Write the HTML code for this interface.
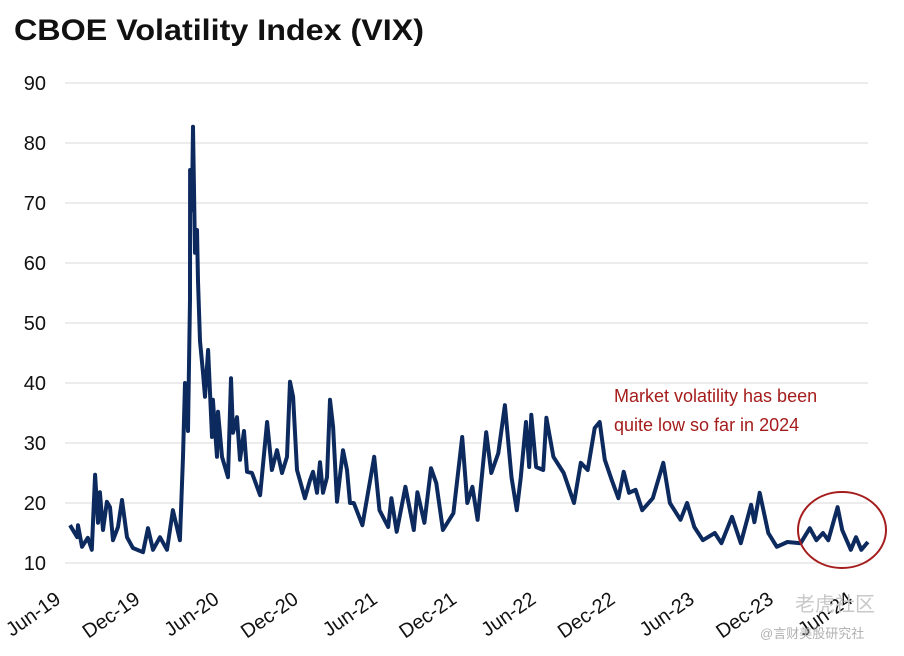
<!DOCTYPE html>
<html><head><meta charset="utf-8"><style>
body{margin:0;background:#fff;width:904px;height:656px;overflow:hidden}
svg{display:block;font-family:"Liberation Sans","Noto Sans CJK SC",sans-serif}
</style></head><body>
<svg id="chart" width="904" height="656">
<text x="14" y="40" font-size="30" font-weight="bold" fill="#111" textLength="410" lengthAdjust="spacingAndGlyphs">CBOE Volatility Index (VIX)</text>
<g id="grid"></g><g id="ylab"></g><g id="xlab"></g>
<path id="line" fill="none" stroke="#0d2a5e" stroke-width="4" stroke-linejoin="round"/>
<text x="614" y="402" font-size="18" fill="#a51c1c">Market volatility has been</text>
<text x="614" y="431" font-size="18" fill="#a51c1c">quite low so far in 2024</text>
<ellipse cx="842" cy="530" rx="44" ry="38" fill="none" stroke="#a51c1c" stroke-width="2"/>
<text x="795" y="611" font-size="20" fill="#c8c8c8">老虎社区</text>
<text x="760" y="638" font-size="13" fill="#b0b0b0">@言财美股研究社</text>
</svg>
<script>
const yTicks=[10,20,30,40,50,60,70,80,90];
const xTickLabels=["Jun-19","Dec-19","Jun-20","Dec-20","Jun-21","Dec-21","Jun-22","Dec-22","Jun-23","Dec-23","Jun-24"];
const xTickMonths=[0,6,12,18,24,30,36,42,48,54,60];
const months=[0.15,0.7,0.76,1.06,1.5,1.8,2.05,2.27,2.42,2.65,2.95,3.18,3.41,3.79,4.09,4.47,4.92,5.68,6.06,6.44,6.97,7.5,7.95,8.48,8.71,8.86,9.09,9.24,9.25,9.39,9.47,9.62,9.77,9.85,10.0,10.23,10.38,10.61,10.91,10.98,11.29,11.36,11.67,12.12,12.35,12.5,12.8,13.03,13.33,13.56,13.94,14.55,15.08,15.45,15.83,16.21,16.59,16.82,17.05,17.35,17.95,18.33,18.56,18.86,19.09,19.32,19.62,19.85,20.08,20.38,20.83,21.14,21.36,21.65,22.3,23.2,23.6,24.26,24.5,24.9,25.56,26.2,26.47,27.0,27.5,27.9,28.4,29.2,29.86,30.25,30.64,31.03,31.68,32.07,32.6,33.1,33.6,34.0,34.3,34.7,34.94,35.1,35.46,36.0,36.24,36.77,37.55,38.33,38.85,39.37,39.9,40.28,40.67,41.2,41.7,42.1,42.5,43.0,43.5,44.3,45.1,45.6,46.4,46.9,47.45,48.1,49.0,49.5,50.3,50.97,51.75,52.0,52.4,53.05,53.7,54.5,55.5,56.2,56.7,57.2,57.6,58.3,58.65,59.3,59.7,60.1,60.6];
const vix=[16.3,14.3,16.3,12.7,14.2,12.2,24.7,16.7,21.8,15.5,20.2,19.3,13.8,16,20.5,14.3,12.5,11.8,15.8,12.2,14.3,12.2,18.8,13.8,27.7,40,32,54,75.5,68.8,82.7,61.7,65.5,57,47,41.7,37.7,45.5,31,37.2,27.7,35.2,27.7,24.3,40.8,31.7,34.3,27.2,32,25.2,25,21.3,33.5,25.5,28.8,25,27.7,40.2,37.7,25.5,20.8,23.8,25.2,21.7,26.8,21.7,24.3,37.2,32.7,20.2,28.8,25.5,20,20,16.3,27.7,18.8,16,20.8,15.2,22.7,15.5,21.8,16.7,25.8,23.3,15.5,18.3,31,20,22.7,17.2,31.8,25,28.3,36.3,24.3,18.8,24.3,33.5,26,34.7,26,25.5,34.2,27.7,25,20,26.7,25.5,32.5,33.5,27.2,23.8,20.8,25.2,21.7,22.2,18.8,20.8,26.7,20,17.2,20,16,13.8,15,13.3,17.7,13.3,19.7,16.8,21.7,15,12.7,13.5,13.3,15.8,13.8,15,13.8,19.3,15.5,12.2,14.3,12.2,13.5];
const X=m=>68+m*13.2, Y=v=>563-(v-10)*6;
const NS="http://www.w3.org/2000/svg";
const grid=document.getElementById('grid'),yl=document.getElementById('ylab'),xl=document.getElementById('xlab');
yTicks.forEach(t=>{
 const l=document.createElementNS(NS,'line');
 l.setAttribute('x1',65);l.setAttribute('x2',868);l.setAttribute('y1',Y(t));l.setAttribute('y2',Y(t));
 l.setAttribute('stroke','#d9d9d9');l.setAttribute('stroke-width','1');
 
 
 grid.appendChild(l);
 const tx=document.createElementNS(NS,'text');
 tx.setAttribute('x',46);tx.setAttribute('y',Y(t)+7);tx.setAttribute('text-anchor','end');
 tx.setAttribute('font-size','20');tx.setAttribute('fill','#111');tx.textContent=t;
 
 
 yl.appendChild(tx);
});
xTickLabels.forEach((s,i)=>{
 const x=X(xTickMonths[i])-6,y=602;
 const tx=document.createElementNS(NS,'text');
 tx.setAttribute('x',x);tx.setAttribute('y',y);tx.setAttribute('text-anchor','end');
 tx.setAttribute('font-size','20');tx.setAttribute('fill','#111');
 tx.setAttribute('transform','rotate(-35 '+x+' '+y+')');tx.textContent=s;
 
 
 xl.appendChild(tx);
});
document.getElementById('line').setAttribute('d',months.map((m,i)=>(i?'L':'M')+X(m).toFixed(1)+','+Y(vix[i]).toFixed(1)).join(''));
</script>
</body></html>
